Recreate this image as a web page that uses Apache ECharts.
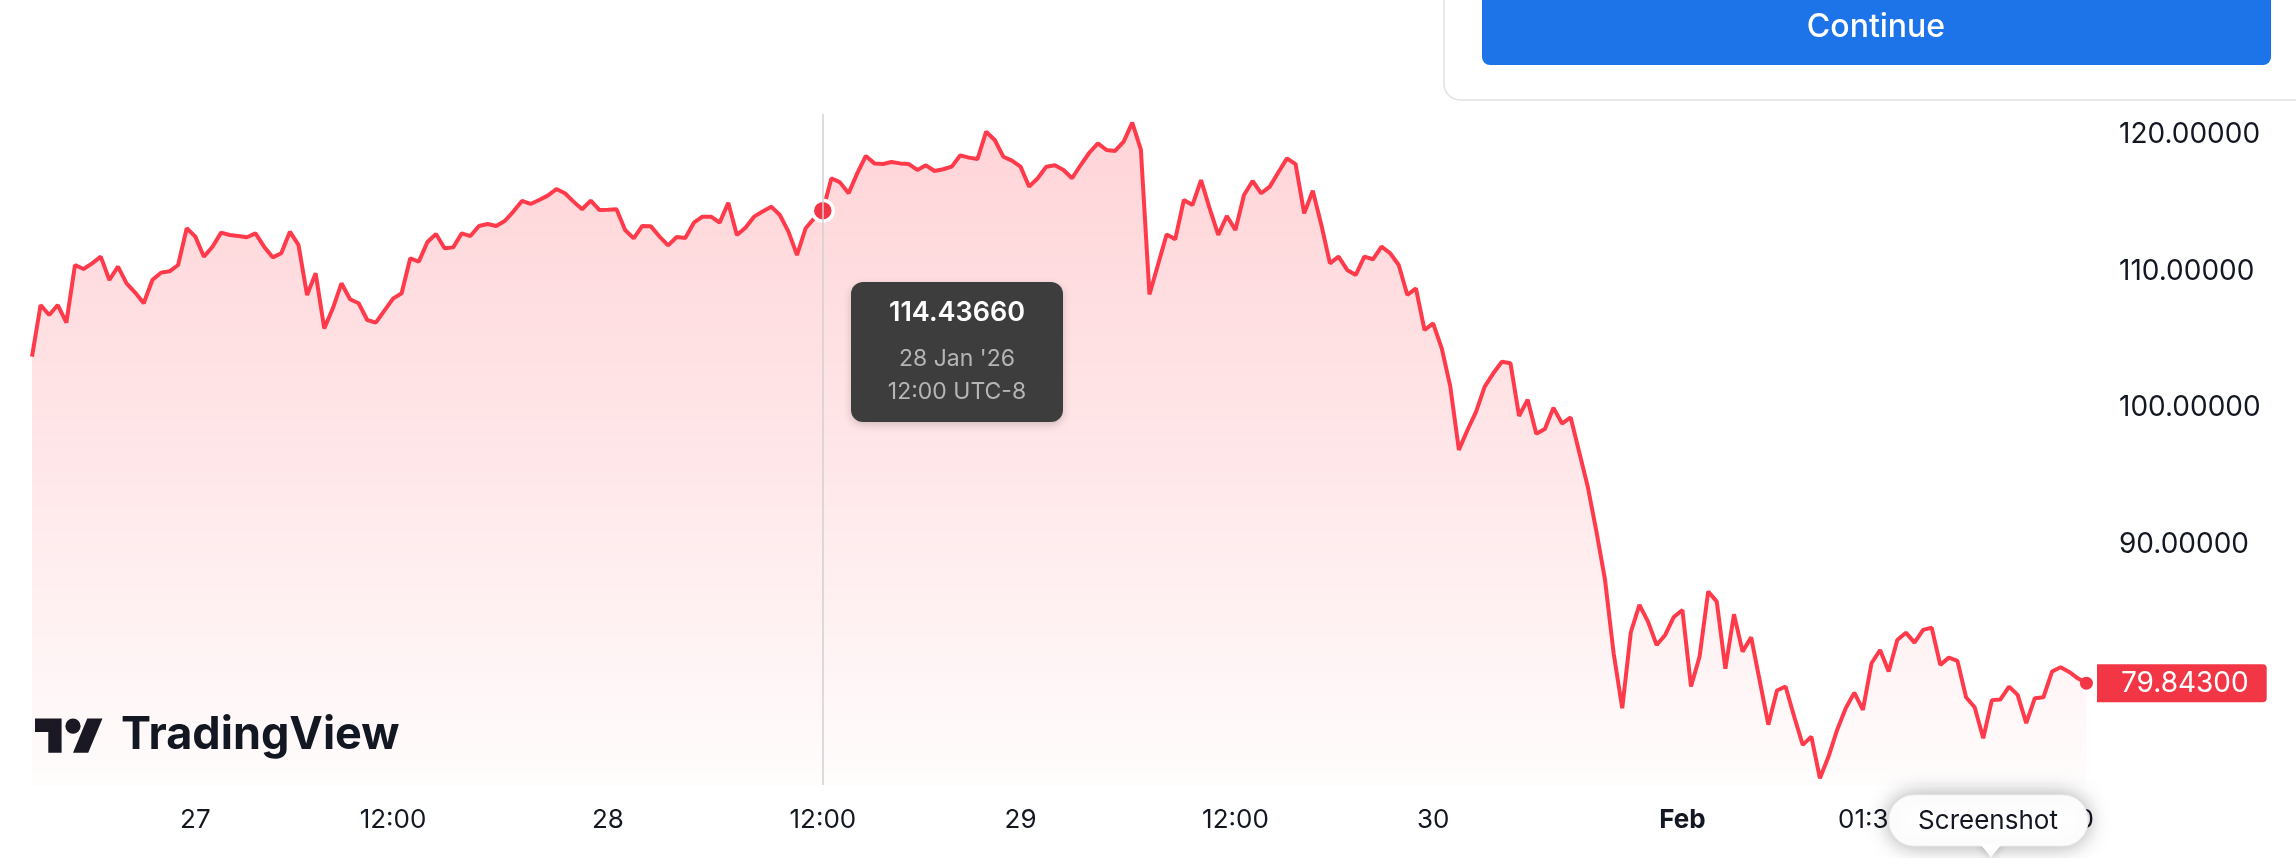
<!DOCTYPE html>
<html>
<head>
<meta charset="utf-8">
<title>Price chart</title>
<script src="https://cdn.jsdelivr.net/npm/echarts@6/dist/echarts.min.js"></script>
<style>
    html, body { margin: 0; padding: 0; background: #fff; }
    #my_echart { width: 2296px; height: 858px; }
</style>
</head>
<body>
<div id="my_echart"></div>
<script>
// price every half-hour slot
var prices = [
    103.75, 107.53, 106.80, 107.53, 106.24, 110.46, 110.17, 110.58, 111.07, 109.36,
    110.34, 109.12, 108.44, 107.66, 109.36, 109.90, 110.00, 110.46, 113.15, 112.54,
    111.07, 111.80, 112.83, 112.66, 112.58, 112.49, 112.78, 111.80, 111.02, 111.32,
    112.90, 111.93, 108.26, 109.85, 105.82, 107.29, 109.12, 107.95, 107.66, 106.43,
    106.24, 107.12, 108.00, 108.39, 110.95, 110.71, 112.14, 112.73, 111.68, 111.75,
    112.78, 112.58, 113.32, 113.46, 113.32, 113.68, 114.37, 115.15, 114.93, 115.22,
    115.54, 116.02, 115.71, 115.10, 114.54, 115.17, 114.49, 114.51, 114.54, 113.02,
    112.41, 113.32, 113.29, 112.54, 111.90, 112.51, 112.44, 113.56, 114.00, 114.00,
    113.56, 115.02, 112.66, 113.19, 114.00, 114.37, 114.73, 114.12, 112.90, 111.19,
    113.15, 113.88, 114.4366, 116.81, 116.51, 115.71, 117.17, 118.44, 117.90, 117.85,
    118.00, 117.90, 117.85, 117.42, 117.76, 117.34, 117.47, 117.66, 118.49, 118.32,
    118.22, 120.22, 119.61, 118.39, 118.10, 117.66, 116.20, 116.81, 117.66, 117.76,
    117.42, 116.81, 117.78, 118.68, 119.37, 118.88, 118.81, 119.49, 120.88, 118.90,
    108.30, 110.50, 112.70, 112.34, 115.22, 114.85, 116.68, 114.61, 112.66, 114.05,
    113.02, 115.59, 116.61, 115.71, 116.20, 117.25, 118.27, 117.85, 114.24, 115.90,
    113.39, 110.58, 111.07, 110.10, 109.73, 111.07, 110.88, 111.80, 111.32, 110.46,
    108.26, 108.75, 105.70, 106.19, 104.36, 101.55, 96.92, 98.38, 99.72, 101.55,
    102.53, 103.38, 103.26, 99.40, 100.60, 98.10, 98.45, 100.00, 98.85, 99.30,
    96.75, 94.20, 90.94, 87.40, 82.03, 78.00, 83.57, 85.57, 84.35, 82.64,
    83.37, 84.69, 85.20, 79.60, 81.79, 86.55, 85.81, 80.90, 84.89, 82.15,
    83.20, 80.00, 76.80, 79.30, 79.60, 77.40, 75.32, 75.93, 72.88, 74.47,
    76.42, 78.00, 79.15, 77.88, 81.30, 82.27, 80.69, 83.00, 83.54, 82.81,
    83.74, 83.91, 81.18, 81.71, 81.47, 78.81, 78.08, 75.81, 78.60, 78.65,
    79.59, 78.98, 76.91, 78.74, 78.81, 80.69, 81.01, 80.66, 80.20, 79.843
];
var slotCount = 241;   // axis runs a little past the last price
var tickSlots = [19, 42, 67, 92, 115, 140, 163, 192, 214, 236];
var tickLabels = ['27', '12:00', '28', '12:00', '29', '12:00', '30', 'Feb', '01:30', '12:00'];
var priceLabels = [90, 100, 110, 120];
var hoverSlot = 92;
var hoverDate = "28 Jan '26";
var hoverTime = '12:00 UTC-8';

var slots = [];
for (var i = 0; i < slotCount; i++) {
    slots.push(String(i));
}
var lastIdx = prices.length - 1;
var lastPrice = prices[lastIdx];

var FONT = 'Inter, "Noto Sans", sans-serif';
var RED = '#f23645';
var TEXT = '#131722';

var mychart = echarts.init(document.getElementById('my_echart'));

mychart.setOption({
    animation: false,
    textStyle: { fontFamily: FONT },
    grid: {
        left: 32,
        right: 201,
        top: 114,
        bottom: 73
    },
    tooltip: {
        trigger: 'axis',
        alwaysShowContent: true,
        transitionDuration: 0,
        backgroundColor: '#3d3d3d',
        borderWidth: 0,
        padding: [14, 20],
        extraCssText: 'border-radius:12px;width:172px;text-align:center;box-shadow:0 3px 8px rgba(0,0,0,0.18);font-family:Inter,sans-serif;',
        axisPointer: {
            type: 'line',
            lineStyle: { color: '#d0d0d0', width: 1.5, type: 'solid' },
            label: { show: false }
        },
        position: function (point) {
            return [point[0] + 28, point[1] + 71];
        },
        formatter: function (params) {
            var p = params[0];
            return '<div style="color:#fff;font-weight:600;font-size:27px;line-height:32px;margin-bottom:14px;">' +
                Number(p.value).toFixed(5) + '</div>' +
                '<div style="color:#b5b5b5;font-size:23px;line-height:33px;">' + hoverDate + '</div>' +
                '<div style="color:#b5b5b5;font-size:23px;line-height:33px;">' + hoverTime + '</div>';
        }
    },
    xAxis: {
        type: 'category',
        boundaryGap: false,
        data: slots,
        axisLine: { show: false },
        axisTick: { show: false },
        splitLine: { show: false },
        axisLabel: {
            margin: 22,
            fontSize: 26,
            color: TEXT,
            fontFamily: FONT,
            interval: function (index) {
                return tickSlots.indexOf(index) >= 0;
            },
            formatter: function (value, index) {
                var t = tickLabels[tickSlots.indexOf(index)];
                return t === 'Feb' ? '{b|Feb}' : t;
            },
            rich: {
                b: { fontWeight: 'bold', fontSize: 26, color: TEXT, fontFamily: FONT }
            }
        }
    },
    yAxis: {
        type: 'value',
        position: 'right',
        min: 72.385,
        max: 121.516,
        axisLine: { show: false },
        axisTick: { show: false },
        splitLine: { show: false },
        axisLabel: {
            margin: 24,
            fontSize: 28,
            color: TEXT,
            fontFamily: FONT,
            showMinLabel: false,
            showMaxLabel: false,
            formatter: function (v) {
                for (var k = 0; k < priceLabels.length; k++) {
                    if (Math.abs(v - priceLabels[k]) < 1e-6) return v.toFixed(5);
                }
                return '';
            }
        }
    },
    series: [
        {
            name: 'price',
            type: 'line',
            data: prices,
            showSymbol: false,
            symbol: 'circle',
            symbolSize: 19,
            itemStyle: { color: RED, borderColor: '#fff', borderWidth: 3.5 },
            lineStyle: { color: RED, width: 4 },
            emphasis: { scale: false, lineStyle: { width: 4 } },
            areaStyle: {
                color: new echarts.graphic.LinearGradient(0, 0, 0, 1, [
                    { offset: 0, color: 'rgba(242,54,69,0.31)' },
                    { offset: 0.5, color: 'rgba(242,54,69,0.18)' },
                    { offset: 1, color: 'rgba(242,54,69,0.02)' }
                ])
            },
            markPoint: {
                silent: true,
                symbol: 'circle',
                label: { show: false },
                data: [
                    // hovered point
                    {
                        coord: [hoverSlot, prices[hoverSlot]],
                        symbolSize: 21,
                        itemStyle: { color: RED, borderColor: '#fff', borderWidth: 3.5 }
                    },
                    // last price
                    {
                        coord: [lastIdx, lastPrice],
                        symbolSize: 13,
                        itemStyle: { color: RED, borderWidth: 0 }
                    }
                ]
            },
            markLine: {
                silent: true,
                symbol: ['none', 'none'],
                lineStyle: { color: 'rgba(0,0,0,0)', width: 1, type: 'solid' },
                label: {
                    show: true,
                    position: 'end',
                    distance: 2,
                    formatter: lastPrice.toFixed(5),
                    backgroundColor: RED,
                    color: '#fff',
                    opacity: 1,
                    fontSize: 28,
                    lineHeight: 28,
                    fontFamily: FONT,
                    padding: [5, 18, 5, 24],
                    borderRadius: [0, 4, 4, 0]
                },
                data: [{ yAxis: lastPrice }]
            }
        }
    ],
    graphic: [
        // dialog card with the Continue button, top right
        {
            type: 'rect', z: 100,
            shape: { x: 1444, y: -20, width: 900, height: 120, r: [0, 0, 0, 16] },
            style: { fill: '#fff', stroke: '#dfe1e6', lineWidth: 1.5 }
        },
        {
            type: 'rect', z: 101,
            shape: { x: 1482, y: -12, width: 789, height: 77, r: [0, 0, 8, 8] },
            style: { fill: '#1d73e8' }
        },
        {
            type: 'text', z: 102,
            style: {
                x: 1876, y: 27, text: 'Continue', fill: '#fff',
                font: '500 32px ' + FONT, textAlign: 'center', textVerticalAlign: 'middle'
            }
        },
        // TradingView mark
        {
            type: 'group', z: 100, x: 35, y: 711, scaleX: 1.9, scaleY: 1.9,
            children: [
                { type: 'polygon', shape: { points: [[14, 22], [7, 22], [7, 11], [0, 11], [0, 4], [14, 4]] }, style: { fill: TEXT } },
                { type: 'polygon', shape: { points: [[28, 22], [20, 22], [27.5, 4], [35.5, 4]] }, style: { fill: TEXT } },
                { type: 'circle', shape: { cx: 20, cy: 8, r: 4 }, style: { fill: TEXT } }
            ]
        },
        {
            type: 'text', z: 100,
            style: {
                x: 121, y: 735, text: 'TradingView', fill: TEXT,
                font: 'bold 45px ' + FONT, textVerticalAlign: 'middle'
            }
        },
        // Screenshot bubble over the right of the time axis
        {
            type: 'polygon', z: 110,
            shape: { points: [[1979, 840], [2003, 840], [1991, 858]] },
            style: { fill: '#fff', shadowBlur: 10, shadowColor: 'rgba(0,0,0,0.25)' }
        },
        {
            type: 'rect', z: 111,
            shape: { x: 1889, y: 795, width: 199, height: 51, r: 25 },
            style: { fill: '#fff', stroke: '#eeeeee', lineWidth: 1, shadowBlur: 22, shadowColor: 'rgba(0,0,0,0.35)' }
        },
        {
            type: 'polygon', z: 112,
            shape: { points: [[1980, 844], [2002, 844], [1991, 857]] },
            style: { fill: '#fff' }
        },
        {
            type: 'text', z: 113,
            style: {
                x: 1988, y: 821, text: 'Screenshot', fill: TEXT,
                font: '26px ' + FONT, textAlign: 'center', textVerticalAlign: 'middle'
            }
        }
    ]
});

// crosshair + tooltip fixed on the 28 Jan 12:00 point
var pt = mychart.convertToPixel({ seriesIndex: 0 }, [hoverSlot, prices[hoverSlot]]);
mychart.dispatchAction({ type: 'showTip', x: pt[0], y: pt[1] });
</script>
</body>
</html>
